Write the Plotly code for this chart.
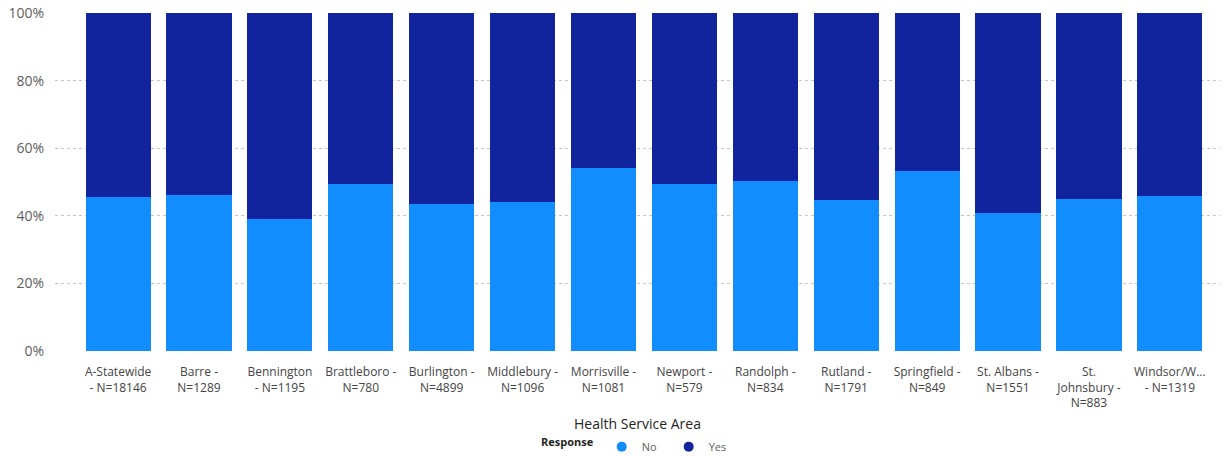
import plotly.graph_objects as go

categories = ["A-Statewide<br>- N=18146", "Barre -<br>N=1289", "Bennington<br>- N=1195",
              "Brattleboro -<br>N=780", "Burlington -<br>N=4899", "Middlebury -<br>N=1096",
              "Morrisville -<br>N=1081", "Newport -<br>N=579", "Randolph -<br>N=834",
              "Rutland -<br>N=1791", "Springfield -<br>N=849", "St. Albans -<br>N=1551",
              "St.<br>Johnsbury -<br>N=883", "Windsor/W...<br>- N=1319"]
no_pct = [45.5, 46.1, 39.2, 49.4, 43.4, 44.2, 54.2, 49.4, 50.3, 44.7, 53.3, 40.8, 44.9, 45.9]
yes_pct = [100 - v for v in no_pct]
y_ticks = [0, 20, 40, 60, 80, 100]
y_ticktext = ["0%", "20%", "40%", "60%", "80%", "100%"]

FONT = "Open Sans, Noto Sans, sans-serif"
C_NO = "#118DFF"
C_YES = "#12239E"

xs = list(range(len(categories)))
fig = go.Figure()
fig.add_trace(go.Bar(x=xs, y=no_pct, name="No", marker_color=C_NO,
                     marker_line_width=0, showlegend=False))
fig.add_trace(go.Bar(x=xs, y=yes_pct, name="Yes", marker_color=C_YES,
                     marker_line_width=0, showlegend=False))
# legend entries with circular markers
fig.add_trace(go.Scatter(x=[None], y=[None], mode="markers", name="No",
                         marker=dict(symbol="circle", size=10, color=C_NO)))
fig.add_trace(go.Scatter(x=[None], y=[None], mode="markers", name="Yes",
                         marker=dict(symbol="circle", size=10, color=C_YES)))

fig.update_layout(
    barmode="stack",
    bargap=0.195,
    width=1225, height=456,
    margin=dict(l=55, r=5, t=13, b=105, autoexpand=False),
    plot_bgcolor="white", paper_bgcolor="white",
    font=dict(family=FONT, color="#605E5C"),
    xaxis=dict(
        tickmode="array", tickvals=xs, ticktext=categories,
        range=[-0.78, 13.62], showgrid=False, zeroline=False, showline=False,
        tickfont=dict(size=12, color="#444444"), ticks="", ticklen=0,
        ticklabelstandoff=12,
        automargin=False,
        title=dict(text="Health Service Area", font=dict(size=14, color="#252423", family=FONT), standoff=8),
    ),
    yaxis=dict(
        range=[0, 100], tickmode="array", tickvals=y_ticks, ticktext=y_ticktext,
        showgrid=True, gridcolor="#C8C6C4", griddash="dot", gridwidth=1,
        zeroline=False, showline=False, tickfont=dict(size=14, color="#605E5C"),
        ticklabelstandoff=10, ticklabeloverflow="allow",
        automargin=False,
    ),
    legend=dict(
        orientation="h", x=0.5, xanchor="center", y=-0.283, yanchor="middle",
        title=dict(text="<b>Response</b>", font=dict(size=11, color="#252423"), side="left"),
        font=dict(size=11, color="#605E5C"), itemwidth=30,
        entrywidth=22, entrywidthmode="pixels",
        traceorder="normal",
    ),
    showlegend=True,
)

fig.write_html("out.html", config={"displayModeBar": False},
               post_script="document.body.style.margin='0';")
